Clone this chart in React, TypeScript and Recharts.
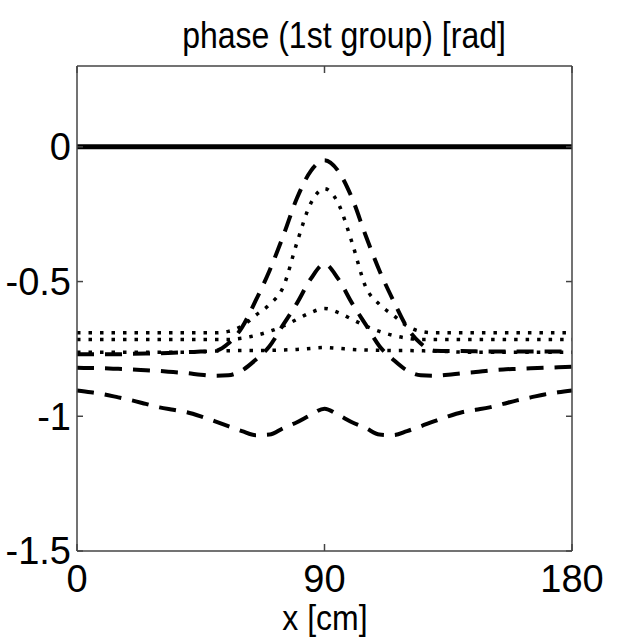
import { LineChart, Line, XAxis, YAxis } from "recharts";

// x positions along the bar [cm]
const xCm = [
  0, 5, 10, 15, 20, 25, 30, 35, 40, 45, 50, 55, 60, 65, 70, 75, 80, 85, 90,
  95, 100, 105, 110, 115, 120, 125, 130, 135, 140, 145, 150, 155, 160, 165, 170, 175, 180,
];

// solid reference at zero
const solidZero = [
  0, 0, 0, 0, 0, 0, 0, 0, 0, 0, 0, 0, 0, 0, 0, 0, 0, 0, 0,
  0, 0, 0, 0, 0, 0, 0, 0, 0, 0, 0, 0, 0, 0, 0, 0, 0, 0,
];

// dashed, tallest peak
const dashedHigh = [
  -0.77, -0.77, -0.77, -0.77, -0.768, -0.767, -0.766, -0.764, -0.762, -0.76, -0.758, -0.73, -0.67, -0.57, -0.46, -0.33, -0.19, -0.09, -0.05,
  -0.09, -0.19, -0.33, -0.46, -0.57, -0.67, -0.73, -0.757, -0.758, -0.758, -0.759, -0.76, -0.76, -0.76, -0.76, -0.76, -0.76, -0.76,
];

// dotted, tall peak
const dottedHigh = [
  -0.69, -0.69, -0.69, -0.69, -0.69, -0.69, -0.69, -0.69, -0.69, -0.69, -0.69, -0.685, -0.665, -0.625, -0.585, -0.52, -0.355, -0.21, -0.155,
  -0.21, -0.355, -0.52, -0.585, -0.625, -0.665, -0.685, -0.69, -0.69, -0.69, -0.69, -0.69, -0.69, -0.69, -0.69, -0.69, -0.69, -0.69,
];

// dashed, middle peak
const dashedMid = [
  -0.82, -0.821, -0.822, -0.824, -0.826, -0.829, -0.832, -0.836, -0.84, -0.846, -0.85, -0.848, -0.83, -0.79, -0.74, -0.66, -0.58, -0.49, -0.435,
  -0.49, -0.58, -0.66, -0.74, -0.79, -0.83, -0.848, -0.85, -0.846, -0.84, -0.836, -0.83, -0.826, -0.824, -0.822, -0.82, -0.818, -0.816,
];

// dotted, small peak
const dottedMid = [
  -0.715, -0.715, -0.715, -0.715, -0.715, -0.715, -0.715, -0.715, -0.715, -0.715, -0.715, -0.715, -0.71, -0.7, -0.685, -0.665, -0.64, -0.615, -0.6,
  -0.615, -0.64, -0.665, -0.685, -0.7, -0.71, -0.715, -0.715, -0.715, -0.715, -0.715, -0.715, -0.715, -0.715, -0.715, -0.715, -0.715, -0.715,
];

// dotted, nearly flat
const dottedFlat = [
  -0.762, -0.762, -0.762, -0.762, -0.762, -0.762, -0.762, -0.762, -0.762, -0.76, -0.758, -0.757, -0.756, -0.756, -0.755, -0.754, -0.752, -0.748, -0.745,
  -0.748, -0.752, -0.754, -0.755, -0.756, -0.756, -0.757, -0.758, -0.76, -0.762, -0.762, -0.762, -0.762, -0.762, -0.762, -0.762, -0.762, -0.762,
];

// dashed, lowest (double dip)
const dashedLow = [
  -0.904, -0.911, -0.919, -0.93, -0.941, -0.954, -0.967, -0.976, -0.985, -1.0, -1.018, -1.037, -1.055, -1.07, -1.068, -1.044, -1.022, -0.995, -0.972,
  -0.995, -1.022, -1.044, -1.068, -1.07, -1.055, -1.037, -1.018, -1.0, -0.985, -0.976, -0.967, -0.954, -0.941, -0.93, -0.919, -0.911, -0.904,
];

const xTicks = [0, 90, 180];
const yTicks = [-1.5, -1, -0.5, 0];

const data = xCm.map((x, i) => ({
  x,
  zero: solidZero[i],
  dHigh: dashedHigh[i],
  tHigh: dottedHigh[i],
  dMid: dashedMid[i],
  tMid: dottedMid[i],
  tFlat: dottedFlat[i],
  dLow: dashedLow[i],
}));

const font = '"Liberation Sans", Arial, sans-serif';
const axisColor = "#444";
const tickFont = { fontSize: 38, fill: "#000", fontFamily: font };

const dashed = "17 11";
const dotted = "3.5 8";

export default function App() {
  return (
    <div style={{ position: "absolute", left: 0, top: 0, width: 621, height: 639, background: "#fff", fontFamily: font }}>
      <LineChart width={621} height={639} data={data} margin={{ top: 0, right: 0, bottom: 0, left: 0 }}>
        <XAxis
          dataKey="x"
          type="number"
          domain={[0, 180]}
          ticks={xTicks}
          height={88}
          stroke={axisColor}
          strokeWidth={1.5}
          tickSize={-7}
          tickMargin={21}
          tick={tickFont}
        />
        <XAxis
          xAxisId="top"
          orientation="top"
          dataKey="x"
          type="number"
          domain={[0, 180]}
          ticks={xTicks}
          height={66}
          stroke={axisColor}
          strokeWidth={1.5}
          tickSize={-7}
          tickFormatter={() => ""}
        />
        <YAxis
          type="number"
          domain={[-1.5, 0.3]}
          ticks={yTicks}
          width={77}
          stroke={axisColor}
          strokeWidth={1.5}
          tickSize={-6}
          tickMargin={12}
          tick={tickFont}
          allowDataOverflow
        />
        <YAxis
          yAxisId="right"
          orientation="right"
          type="number"
          domain={[-1.5, 0.3]}
          ticks={yTicks}
          width={49}
          stroke={axisColor}
          strokeWidth={1.5}
          tickSize={-6}
          tickFormatter={() => ""}
          allowDataOverflow
        />
        <Line dataKey="zero" type="linear" stroke="#000" strokeWidth={5} dot={false} isAnimationActive={false} />
        <Line dataKey="dLow" type="monotone" stroke="#000" strokeWidth={4} strokeDasharray={dashed} dot={false} isAnimationActive={false} />
        <Line dataKey="dMid" type="monotone" stroke="#000" strokeWidth={4} strokeDasharray={dashed} dot={false} isAnimationActive={false} />
        <Line dataKey="dHigh" type="monotone" stroke="#000" strokeWidth={4} strokeDasharray={dashed} dot={false} isAnimationActive={false} />
        <Line dataKey="tFlat" type="monotone" stroke="#000" strokeWidth={3.5} strokeDasharray={dotted} dot={false} isAnimationActive={false} />
        <Line dataKey="tMid" type="monotone" stroke="#000" strokeWidth={3.5} strokeDasharray={dotted} dot={false} isAnimationActive={false} />
        <Line dataKey="tHigh" type="monotone" stroke="#000" strokeWidth={3.5} strokeDasharray={dotted} dot={false} isAnimationActive={false} />
      </LineChart>
      <div
        style={{
          position: "absolute",
          left: 0,
          top: 16,
          width: 688,
          textAlign: "center",
          fontSize: 32,
          lineHeight: "40px",
          color: "#000",
          transform: "scaleY(1.15)",
          transformOrigin: "center 26px",
        }}
      >
        phase (1st group) [rad]
      </div>
      <div
        style={{
          position: "absolute",
          left: 0,
          top: 601,
          width: 650,
          textAlign: "center",
          fontSize: 32,
          lineHeight: "30px",
          color: "#000",
          transform: "scaleY(1.12)",
          transformOrigin: "center 0px",
        }}
      >
        x [cm]
      </div>
    </div>
  );
}
